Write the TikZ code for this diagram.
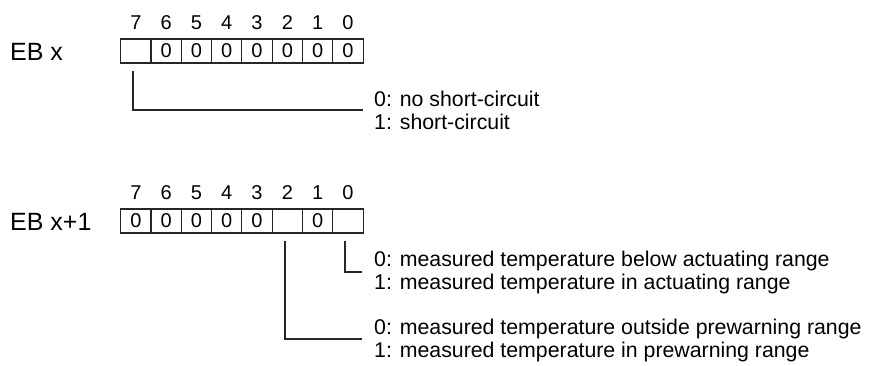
\documentclass[tikz,border=0pt]{standalone}
\usepackage{fontspec}
\setmainfont{Liberation Sans}
\begin{document}
\begin{tikzpicture}[x=1pt,y=-1pt,
  cell/.style={draw=black!85,line width=1.1pt,minimum width=30.3pt,minimum height=24pt,inner sep=0pt,font=\fontsize{20}{20}\selectfont},
  bitnum/.style={inner sep=0pt,font=\fontsize{20}{20}\selectfont},
  eblabel/.style={anchor=west,inner sep=0pt,font=\fontsize{25}{25}\selectfont},
  desc/.style={anchor=west,inner sep=0pt,align=left,font=\fontsize{21.3}{23}\selectfont},
  conn/.style={draw=black!85,line width=1.8pt}]
\useasboundingbox (0,0) rectangle (875,365);
% first byte
\node[eblabel] (eb0) at (10,52) {EB x};
\foreach \i/\v in {0/{},1/0,2/0,3/0,4/0,5/0,6/0,7/0}{
  \pgfmathtruncatemacro{\b}{7-\i}
  \node[cell] (a\b) at ({120.7+30.3*(\i+0.5)},51) {\v};
  \node[bitnum] (na\b) at ({120.7+30.3*(\i+0.5)},23) {\b};
}
% second byte
\node[eblabel] (eb1) at (10,222) {EB x+1};
\foreach \i/\v in {0/0,1/0,2/0,3/0,4/0,5/{},6/0,7/{}}{
  \pgfmathtruncatemacro{\b}{7-\i}
  \node[cell] (b\b) at ({120.7+30.3*(\i+0.5)},221) {\v};
  \node[bitnum] (nb\b) at ({120.7+30.3*(\i+0.5)},193) {\b};
}
% descriptions
\node[desc] (d1) at (374,110) {0: no short-circuit\\1: short-circuit};
\node[desc] (d2) at (374,272.5) {0: measured temperature below actuating range\\1: measured temperature in actuating range};
\node[desc] (d3) at (374,340) {0: measured temperature outside prewarning range\\1: measured temperature in prewarning range};
\coordinate (e1) at (363,110);
\coordinate (e2) at (362,272);
\coordinate (e3) at (362,339);
% connectors
\draw[conn] ([yshift=-7pt,xshift=-3pt]a7.south) |- (e1);
\draw[conn] ([yshift=-7pt,xshift=-3pt]b0.south) |- (e2);
\draw[conn] ([yshift=-7pt,xshift=-2pt]b2.south) |- (e3);
\end{tikzpicture}
\end{document}
